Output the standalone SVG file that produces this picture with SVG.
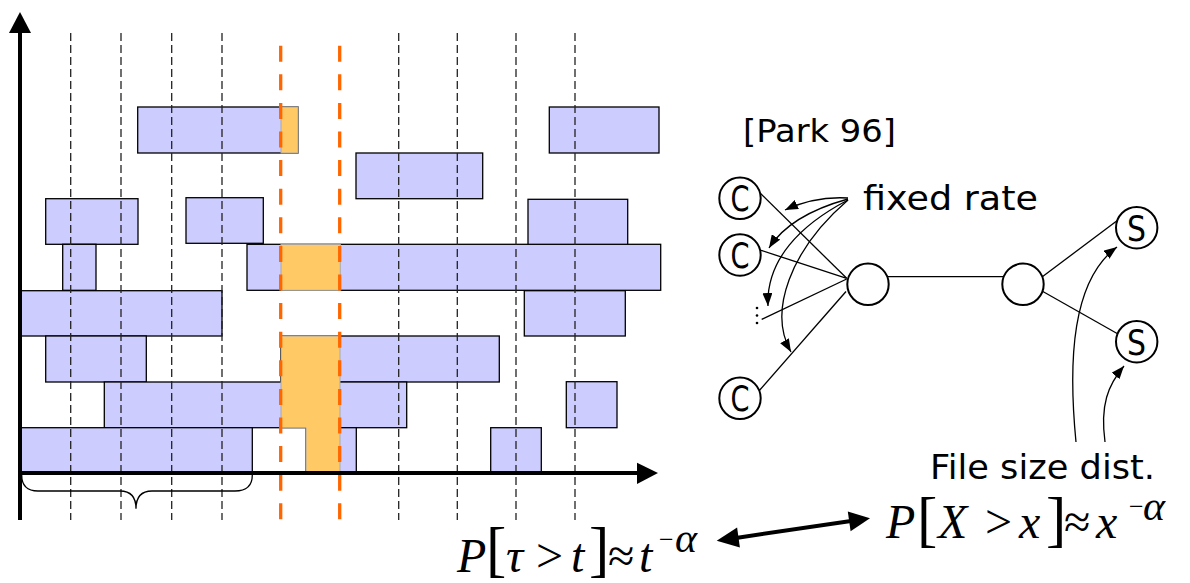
<svg xmlns="http://www.w3.org/2000/svg" width="1190" height="583" viewBox="0 0 1190 583">
<style>
.b{fill:#CCCCFF;stroke:#000;stroke-width:1.3}
.o{fill:#FFC966;stroke:#AAAAAA;stroke-width:1}
.vd{stroke:#222;stroke-width:1.3;stroke-dasharray:8 4;fill:none}
.od{stroke:#FF6600;stroke-width:3.3;stroke-dasharray:16 12.6;fill:none}
.ax{stroke:#000;stroke-width:4;fill:none}
.ln{stroke:#000;stroke-width:1.3;fill:none}
.cr{fill:#fff;stroke:#000;stroke-width:2}
.cl{font-family:'DejaVu Sans',sans-serif;font-size:35px}
.lb{font-family:'DejaVu Sans',sans-serif}
.m{font-family:'Liberation Serif','Times New Roman',serif;font-size:48px}
.i{font-style:italic}
.br{font-family:'Liberation Serif','Times New Roman',serif;font-size:61px}
.mn{font-family:'Liberation Serif','Times New Roman',serif;font-size:26px}
.al{font-family:'Liberation Serif','Times New Roman',serif;font-size:42px;font-style:italic}
</style>
<defs>
<marker id="ah" markerUnits="userSpaceOnUse" markerWidth="14" markerHeight="10" refX="13" refY="5" orient="auto">
<path d="M0,0 L13,5 L0,10 z" fill="#000"/>
</marker>
</defs>
<g id="chart">
<rect class="b" x="137.7" y="107" width="160.3" height="46"/>
<rect class="b" x="549.3" y="107" width="109.7" height="46"/>
<rect class="b" x="356" y="153" width="126.7" height="45.7"/>
<rect class="b" x="45.7" y="198.7" width="92.3" height="45.6"/>
<rect class="b" x="186" y="197.7" width="77.3" height="45.6"/>
<rect class="b" x="528" y="199.3" width="99.7" height="45.7"/>
<rect class="b" x="62.7" y="244.3" width="33.3" height="46"/>
<rect class="b" x="247" y="244.3" width="413.7" height="46"/>
<rect class="b" x="20.7" y="290.7" width="201.3" height="45.3"/>
<rect class="b" x="524.3" y="290.7" width="101" height="45.3"/>
<rect class="b" x="45.7" y="336" width="100.6" height="46"/>
<rect class="b" x="280.7" y="336" width="218.6" height="46"/>
<rect class="b" x="104.3" y="382" width="302.4" height="45.7"/>
<rect class="b" x="566.3" y="381.7" width="50.7" height="46"/>
<rect class="b" x="20.7" y="427.7" width="231.6" height="45.3"/>
<rect class="b" x="306" y="427.7" width="50.3" height="45.3"/>
<rect class="b" x="490.7" y="427.7" width="50.6" height="45.3"/>
<g id="vlines">
<line class="vd" x1="70.7" y1="33" x2="70.7" y2="520"/>
<line class="vd" x1="121" y1="33" x2="121" y2="520"/>
<line class="vd" x1="171.7" y1="33" x2="171.7" y2="520"/>
<line class="vd" x1="222" y1="33" x2="222" y2="520"/>
<line class="vd" x1="398.7" y1="33" x2="398.7" y2="520"/>
<line class="vd" x1="457.3" y1="33" x2="457.3" y2="520"/>
<line class="vd" x1="516" y1="33" x2="516" y2="520"/>
<line class="vd" x1="575" y1="33" x2="575" y2="520"/>
</g>
<rect class="o" x="281" y="107" width="17" height="46"/>
<rect class="o" x="281" y="244.3" width="59.3" height="46"/>
<path class="o" d="M281,336 L340,336 L340,473 L306,473 L306,427.7 L281,427.7 Z"/>
<line class="od" x1="280.7" y1="45.7" x2="280.7" y2="520"/>
<line class="od" x1="339.7" y1="45.7" x2="339.7" y2="520"/>
<line class="ax" x1="20" y1="30" x2="20" y2="520"/>
<polygon points="20,12 31,33 9,33" fill="#000"/>
<line class="ax" x1="18" y1="473" x2="640" y2="473"/>
<polygon points="658,473 637,462.7 637,484" fill="#000"/>
<path class="ln" d="M21.7,475 Q21.7,491 38,491 L120,491 Q136,491 136,508.7 Q136,491 152,491 L235,491 Q252.3,491 252.3,475"/>
</g>
<g id="formula-tau">
<text class="m i" x="457" y="572">P</text>
<text class="br" x="486" y="570">[</text>
<text class="m i" x="506" y="572">τ</text>
<text class="m" x="536" y="572">&gt;</text>
<text class="m i" x="571" y="572">t</text>
<text class="br" x="589" y="570">]</text>
<text class="m" x="608" y="572">≈</text>
<text class="m i" x="639" y="572">t</text>
<text class="mn" x="659" y="548">−</text>
<text class="al" x="675" y="552">α</text>
</g>
<g id="formula-x">
<text class="m i" x="886" y="538">P</text>
<text class="br" x="917" y="540">[</text>
<text class="m i" x="938" y="538">X</text>
<text class="m" x="985" y="538">&gt;</text>
<text class="m i" x="1019" y="538">x</text>
<text class="br" x="1046" y="540">]</text>
<text class="m" x="1064" y="538">≈</text>
<text class="m i" x="1096" y="538">x</text>
<text class="mn" x="1129" y="515">−</text>
<text class="al" x="1143" y="520">α</text>
</g>
<g id="label-park"><text class="lb" x="743" y="142" font-size="32" textLength="153" lengthAdjust="spacingAndGlyphs">[Park 96]</text></g>
<g id="label-fixed"><text class="lb" x="863" y="210" font-size="34" textLength="175" lengthAdjust="spacingAndGlyphs">fixed rate</text></g>
<g id="label-file"><text class="lb" x="930" y="479" font-size="34" textLength="225" lengthAdjust="spacingAndGlyphs">File size dist.</text></g>
<g id="connectors">
<line class="ln" x1="758" y1="191" x2="846.7" y2="278.3"/>
<line class="ln" x1="760" y1="250" x2="846.7" y2="278.3"/>
<line class="ln" x1="761.7" y1="319.3" x2="846.7" y2="279"/>
<line class="ln" x1="758" y1="392" x2="846" y2="291.5"/>
<line class="ln" x1="887" y1="276.7" x2="1004" y2="276.7"/>
<line class="ln" x1="1042" y1="277" x2="1118" y2="220"/>
<line class="ln" x1="1042" y1="291" x2="1118" y2="334"/>
<path class="ln" d="M848,198 Q815,196 785,210" marker-end="url(#ah)"/>
<path class="ln" d="M848,199 Q790,215 769,248" marker-end="url(#ah)"/>
<path class="ln" d="M848,200 C800,225 766,260 768,306" marker-end="url(#ah)"/>
<path class="ln" d="M848,200 C790,250 768,312 791,352" marker-end="url(#ah)"/>
<path class="ln" d="M1076,442 C1068,360 1072,280 1117,247" marker-end="url(#ah)"/>
<path class="ln" d="M1105,442 C1100,405 1108,385 1124,366" marker-end="url(#ah)"/>
<line x1="736" y1="537.9" x2="851" y2="521" stroke="#000" stroke-width="4"/>
<polygon points="716.7,540.7 739.9,547.4 737.1,527.6" fill="#000"/>
<polygon points="870,518.3 850.6,531.2 847.8,511.4" fill="#000"/>
</g>
<g id="node-c1"><circle class="cr" cx="740" cy="198.3" r="20.7"/><text class="cl" x="730.5" y="211" textLength="19" lengthAdjust="spacingAndGlyphs">C</text></g>
<g id="node-c2"><circle class="cr" cx="740" cy="255" r="20.7"/><text class="cl" x="730.5" y="267.5" textLength="19" lengthAdjust="spacingAndGlyphs">C</text></g>
<g id="node-dots"><circle cx="757" cy="308" r="1.3"/><circle cx="757" cy="315.5" r="1.3"/><circle cx="757" cy="323" r="1.3"/></g>
<g id="node-c3"><circle class="cr" cx="740" cy="398.3" r="20.7"/><text class="cl" x="730.5" y="411" textLength="19" lengthAdjust="spacingAndGlyphs">C</text></g>
<g id="node-r1"><circle class="cr" cx="868" cy="284.3" r="20.7"/></g>
<g id="node-r2"><circle class="cr" cx="1023" cy="284.3" r="20.7"/></g>
<g id="node-s1"><circle class="cr" cx="1136.7" cy="227.7" r="20.7"/><text class="cl" x="1127" y="240.5" textLength="19" lengthAdjust="spacingAndGlyphs">S</text></g>
<g id="node-s2"><circle class="cr" cx="1136.7" cy="341.7" r="20.7"/><text class="cl" x="1127" y="354.5" textLength="19" lengthAdjust="spacingAndGlyphs">S</text></g>
</svg>
